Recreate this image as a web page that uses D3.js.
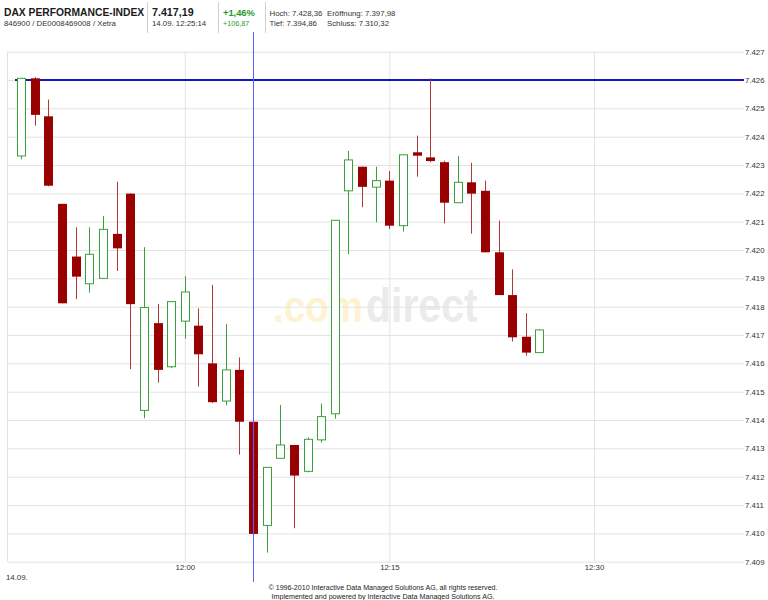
<!DOCTYPE html>
<html><head><meta charset="utf-8">
<script src="https://cdn.jsdelivr.net/npm/d3@7"></script>
<style>body{margin:0;background:#fff;}svg{display:block;font-family:"Liberation Sans",Arial,sans-serif;}</style>
</head><body>
<svg id="c" width="768" height="600"></svg>
<script>
// ---- data ----
const times = ["11:48","11:49","11:50","11:51","11:52","11:53","11:54","11:55","11:56","11:57","11:58","11:59",
  "12:00","12:01","12:02","12:03","12:04","12:05","12:06","12:07","12:08","12:09","12:10","12:11","12:12",
  "12:13","12:14","12:15","12:16","12:17","12:18","12:19","12:20","12:21","12:22","12:23","12:24","12:25","12:26"];
const opens  = [7423.32,7426.06,7424.72,7421.63,7419.77,7418.81,7419.00,7420.57,7421.99,7414.34,7417.42,7415.88,
  7417.49,7417.33,7416.00,7414.67,7415.77,7413.94,7410.28,7412.65,7413.12,7412.19,7413.30,7414.22,7422.09,
  7422.94,7422.22,7422.45,7420.86,7423.45,7423.27,7423.10,7421.67,7422.39,7422.09,7419.92,7418.41,7416.94,7416.38];
const highs  = [7426.06,7426.10,7425.31,7421.63,7420.80,7420.80,7421.20,7422.41,7422.00,7420.10,7418.10,7418.20,
  7419.08,7417.94,7418.77,7417.39,7416.21,7413.94,7412.33,7414.53,7413.12,7413.39,7414.58,7421.05,7423.50,
  7422.94,7422.94,7422.79,7423.36,7424.04,7426.06,7423.15,7423.32,7423.08,7422.45,7421.04,7419.32,7417.77,7417.20];
const lows   = [7423.20,7424.39,7422.25,7418.12,7418.27,7418.50,7419.00,7419.26,7415.80,7414.06,7415.32,7415.83,
  7416.87,7415.18,7414.60,7414.52,7412.78,7409.98,7409.32,7412.65,7410.18,7412.15,7413.20,7414.05,7419.86,
  7421.51,7420.98,7420.74,7420.65,7422.59,7423.10,7420.94,7421.67,7420.58,7419.92,7418.41,7416.77,7416.27,7416.38];
const closes = [7426.06,7424.77,7422.27,7418.12,7419.06,7419.85,7420.73,7420.06,7418.09,7417.97,7415.77,7418.18,
  7418.52,7416.32,7414.63,7415.77,7413.94,7409.98,7412.33,7413.12,7412.04,7413.32,7414.12,7421.05,7423.18,
  7422.23,7422.45,7420.86,7423.36,7423.33,7423.14,7421.67,7422.39,7421.99,7419.92,7418.41,7416.92,7416.38,7417.18];
const yTicks = d3.range(7409, 7428, 1);
const xTickTimes = ["12:00","12:15","12:30"];
const domainTimes = ["11:47","12:41"];
const markerLevel = 7426;      // horizontal line
const markerTime = "12:05";    // vertical line
const dateLabel = "14.09.";
const header = {
  name:"DAX PERFORMANCE-INDEX", ids:"846900 / DE0008469008 / Xetra",
  last:"7.417,19", stamp:"14.09. 12:25:14", pct:"+1,46%", abs:"+106,87",
  hoch:"Hoch: 7.428,36", eroeff:"Eröffnung: 7.397,98", tief:"Tief: 7.394,86", schluss:"Schluss: 7.310,32"
};
const copyright = ["© 1996-2010 Interactive Data Managed Solutions AG, all rights reserved.",
  "Implemented and powered by  Interactive Data Managed Solutions AG."];

// ---- setup ----
const parseT = d3.timeParse("%Y-%m-%d %H:%M");
const T = s => parseT("2010-09-14 " + s);
const de = d3.formatLocale({decimal:",", thousands:".", grouping:[3], currency:["","€"]});
const fmt = de.format(",d");

const L = 7.5, R = 744, Tp = 51.7, B = 561.7;
const x = d3.scaleTime().domain(domainTimes.map(T)).range([L, R]);
const y = d3.scaleLinear().domain([7409, 7427]).range([B, Tp]);
const svg = d3.select("#c");

// watermark
const wm = svg.append("g").attr("transform", "translate(273,322) scale(1,1.15)");
wm.append("text").attr("x", 0).attr("y", 0)
  .attr("font-weight", "bold").attr("font-size", 38.5).attr("fill", "#fdf2d2").text(".com");
wm.append("text").attr("x", 93).attr("y", 0)
  .attr("font-weight", "bold").attr("font-size", 41).attr("fill", "#ebebeb").text("direct");

// grid: horizontal
const gy = svg.append("g").attr("transform", `translate(${R},0)`)
  .call(d3.axisLeft(y).tickValues(yTicks).tickSize(R - L).tickFormat(""));
gy.select(".domain").remove();
gy.selectAll("line").attr("stroke", "#e3e3e3");
// grid: vertical
const gx = svg.append("g").attr("transform", `translate(0,${B})`)
  .call(d3.axisTop(x).tickValues(xTickTimes.map(T)).tickSize(B - Tp).tickFormat(""));
gx.select(".domain").remove();
gx.selectAll("line").attr("stroke", "#e3e3e3");
// left border
svg.append("line").attr("x1", L).attr("x2", L).attr("y1", Tp).attr("y2", B).attr("stroke", "#e3e3e3");

// y labels (right)
const ay = svg.append("g").attr("transform", `translate(${R},0)`)
  .call(d3.axisRight(y).tickValues(yTicks).tickSize(0).tickPadding(1).tickFormat(fmt));
ay.select(".domain").remove();
ay.selectAll("text").attr("font-size", 7.8).attr("fill", "#333").attr("font-family", "'Liberation Sans',Arial,sans-serif");

// x labels
const ax = svg.append("g").attr("transform", `translate(0,${B})`)
  .call(d3.axisBottom(x).tickValues(xTickTimes.map(T)).tickSize(0).tickPadding(3).tickFormat(d3.timeFormat("%H:%M")));
ax.select(".domain").remove();
ax.selectAll("text").attr("font-size", 7.8).attr("fill", "#333").attr("font-family", "'Liberation Sans',Arial,sans-serif");
svg.append("text").attr("x", 6).attr("y", 580).attr("font-size", 7.8).attr("fill", "#333").text(dateLabel);

// horizontal marker line
svg.append("line").attr("x1", 15).attr("x2", R).attr("y1", y(markerLevel)).attr("y2", y(markerLevel))
  .attr("stroke", "#1414c8").attr("stroke-width", 2);

// candles
const data = times.map((t, i) => ({t: T(t), o: opens[i], h: highs[i], l: lows[i], c: closes[i]}));
const cg = svg.append("g");
const bw = 8;
data.forEach(d => {
  const cx = Math.round(x(d.t)) + 0.5;
  const up = d.c >= d.o;
  const col = up ? "#3aa03a" : "#990000";
  const wcol = up ? "#3aa03a" : "#b03a3a";
  cg.append("line").attr("x1", cx).attr("x2", cx).attr("y1", y(d.h)).attr("y2", y(d.l))
    .attr("stroke", wcol).attr("stroke-width", 1);
  const top = y(Math.max(d.o, d.c)), bot = y(Math.min(d.o, d.c));
  if (up) {
    cg.append("rect").attr("x", cx - bw/2).attr("y", top).attr("width", bw).attr("height", Math.max(1, bot - top))
      .attr("fill", "#fff").attr("stroke", col).attr("stroke-width", 1);
  } else {
    cg.append("rect").attr("x", cx - bw/2 - 0.5).attr("y", top).attr("width", bw + 1).attr("height", Math.max(1.5, bot - top))
      .attr("fill", col);
  }
});

// vertical marker line
const vx = Math.round(x(T(markerTime))) + 0.5;
svg.append("line").attr("x1", vx).attr("x2", vx).attr("y1", 32).attr("y2", 582)
  .attr("stroke", "#5c5cff").attr("stroke-width", 1);

// header
const h = svg.append("g").attr("fill", "#1a1a1a");
h.append("text").attr("x", 4).attr("y", 15.5).attr("font-weight", "bold").attr("font-size", 10.3).text(header.name);
h.append("text").attr("x", 4).attr("y", 26).attr("font-size", 7.8).attr("fill", "#333").text(header.ids);
h.append("text").attr("x", 152).attr("y", 15.5).attr("font-weight", "bold").attr("font-size", 10.7).text(header.last);
h.append("text").attr("x", 152).attr("y", 26).attr("font-size", 7.8).attr("fill", "#333").text(header.stamp);
h.append("text").attr("x", 223).attr("y", 15.5).attr("font-weight", "bold").attr("font-size", 9.3).attr("fill", "#1f9a1f").text(header.pct);
h.append("text").attr("x", 223).attr("y", 26).attr("font-size", 7.2).attr("fill", "#1f9a1f").text(header.abs);
h.append("text").attr("x", 269.5).attr("y", 15.5).attr("font-size", 7.8).attr("fill", "#333").text(header.hoch);
h.append("text").attr("x", 327).attr("y", 15.5).attr("font-size", 7.8).attr("fill", "#333").text(header.eroeff);
h.append("text").attr("x", 269.5).attr("y", 26).attr("font-size", 7.8).attr("fill", "#333").text(header.tief);
h.append("text").attr("x", 327).attr("y", 26).attr("font-size", 7.8).attr("fill", "#333").text(header.schluss);
[147.5, 218.5, 265.5].forEach(sx => svg.append("line").attr("x1", sx).attr("x2", sx).attr("y1", 2).attr("y2", 33)
  .attr("stroke", "#cfcfcf"));

// copyright
svg.append("text").attr("x", 383).attr("y", 590).attr("text-anchor", "middle").attr("font-size", 7)
  .attr("fill", "#222").attr("textLength", 229).attr("lengthAdjust", "spacingAndGlyphs").text(copyright[0]);
svg.append("text").attr("x", 383).attr("y", 599).attr("text-anchor", "middle").attr("font-size", 7)
  .attr("fill", "#222").attr("textLength", 223).attr("lengthAdjust", "spacingAndGlyphs").text(copyright[1]);
</script>
</body></html>
